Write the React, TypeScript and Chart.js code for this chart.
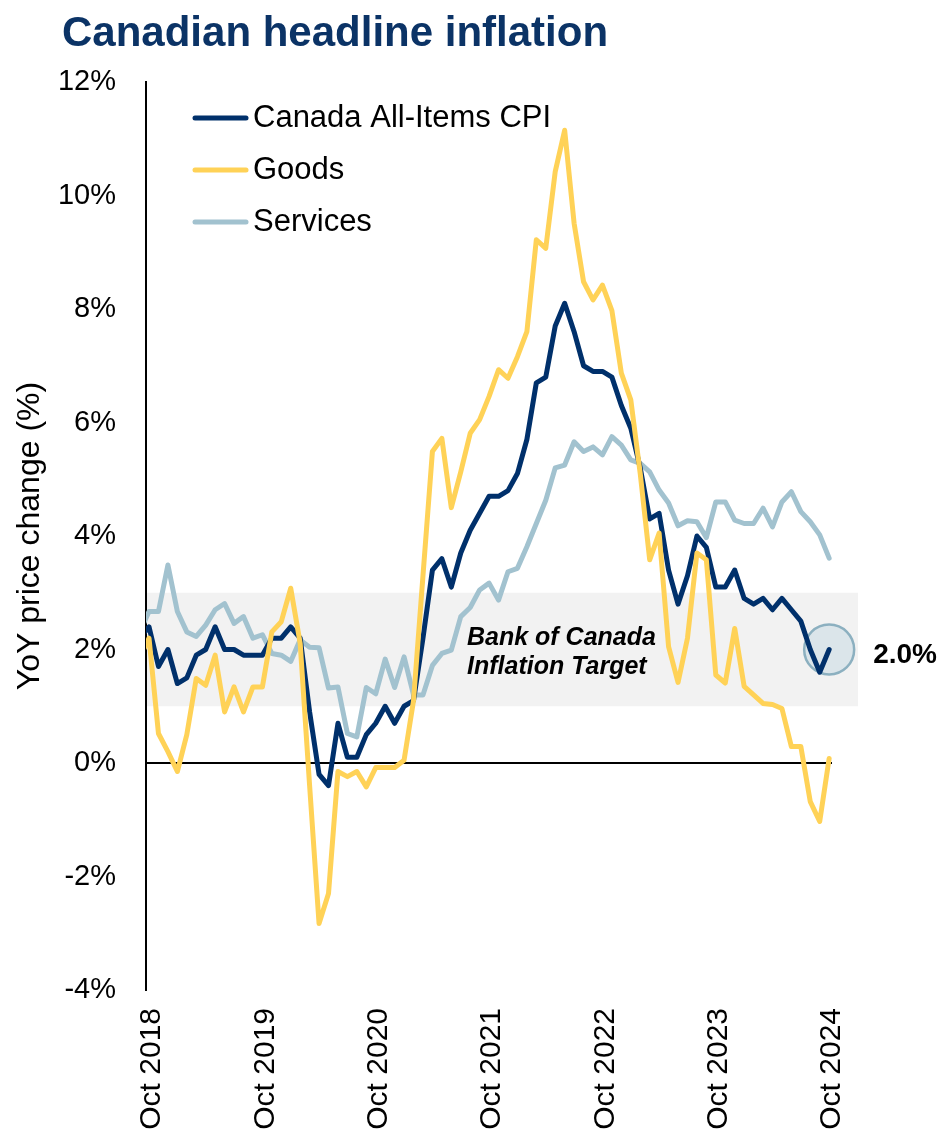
import React, { useEffect, useRef } from 'react';
import { Chart, registerables } from 'chart.js';

Chart.register(...registerables);

const FONT = '"Liberation Sans", Arial, Helvetica, sans-serif';

const chartTitle = 'Canadian headline inflation';
const yAxisTitle = 'YoY price change (%)';
const seriesNames = ['Canada All-Items CPI', 'Goods', 'Services'];
const seriesColors = ['#00306b', '#ffd257', '#a2c2cf'];

// Monthly observations: index 0 = Sep 2018 ... index 73 = Oct 2024
const firstMonth = 'Sep 2018';
const xTickLabels = ['Oct 2018', 'Oct 2019', 'Oct 2020', 'Oct 2021', 'Oct 2022', 'Oct 2023', 'Oct 2024'];
const xTickIndex = [1, 13, 25, 37, 49, 61, 73];
const yTickValues = [-4, -2, 0, 2, 4, 6, 8, 10, 12];

const allItems = [
  2.2, 2.4, 1.7, 2.0,
  1.4, 1.5, 1.9, 2.0, 2.4, 2.0, 2.0, 1.9, 1.9, 1.9, 2.2, 2.2,
  2.4, 2.2, 0.9, -0.2, -0.4, 0.7, 0.1, 0.1, 0.5, 0.7, 1.0, 0.7,
  1.0, 1.1, 2.2, 3.4, 3.6, 3.1, 3.7, 4.1, 4.4, 4.7, 4.7, 4.8,
  5.1, 5.7, 6.7, 6.8, 7.7, 8.1, 7.6, 7.0, 6.9, 6.9, 6.8, 6.3,
  5.9, 5.2, 4.3, 4.4, 3.4, 2.8, 3.3, 4.0, 3.8, 3.1, 3.1, 3.4,
  2.9, 2.8, 2.9, 2.7, 2.9, 2.7, 2.5, 2.0, 1.6, 2.0,
];

const goods = [
  1.85, 2.2, 0.52, 0.2,
  -0.15, 0.5, 1.49, 1.37, 1.9, 0.9, 1.34, 0.9, 1.34, 1.34, 2.31, 2.49,
  3.08, 2.11, -0.4, -2.83, -2.3, -0.15, -0.24, -0.15, -0.42, -0.08, -0.08, -0.08,
  0.05, 1.1, 3.3, 5.49, 5.72, 4.5, 5.13, 5.81, 6.05, 6.46, 6.93, 6.78,
  7.16, 7.6, 9.22, 9.07, 10.42, 11.15, 9.51, 8.48, 8.16, 8.42, 7.97, 6.87,
  6.4, 5.1, 3.58, 4.05, 2.05, 1.42, 2.2, 3.7, 3.58, 1.55, 1.41, 2.37,
  1.35, 1.2, 1.05, 1.03, 0.96, 0.29, 0.29, -0.68, -1.03, 0.08,
];

const services = [
  2.3, 2.67, 2.67, 3.49,
  2.67, 2.31, 2.23, 2.43, 2.7, 2.81, 2.46, 2.58, 2.2, 2.26, 1.93, 1.9,
  1.79, 2.17, 2.04, 2.03, 1.32, 1.34, 0.52, 0.46, 1.33, 1.22, 1.83, 1.33,
  1.87, 1.2, 1.2, 1.72, 1.93, 1.99, 2.58, 2.74, 3.05, 3.17, 2.87, 3.37,
  3.43, 3.81, 4.22, 4.63, 5.2, 5.25, 5.66, 5.49, 5.57, 5.43, 5.75, 5.6,
  5.34, 5.28, 5.13, 4.81, 4.58, 4.18, 4.27, 4.25, 3.97, 4.6, 4.6, 4.28,
  4.22, 4.22, 4.49, 4.16, 4.6, 4.78, 4.43, 4.25, 4.02, 3.61,
];

const targetBand = [1, 3];
const targetLabel = ['Bank of Canada', 'Inflation Target'];
const latestLabel = '2.0%';

const seriesValues = [allItems, goods, services];
const drawOrder = [1, 0, 2];

const overlayPlugin = {
  id: 'overlay',
  beforeDraw(chart: any) {
    const { ctx, chartArea, scales } = chart;
    const ys = scales.y;
    const top = ys.getPixelForValue(targetBand[1]);
    const bottom = ys.getPixelForValue(targetBand[0]);
    ctx.save();
    ctx.fillStyle = '#f2f2f2';
    ctx.fillRect(chartArea.left + 1, top, chartArea.right - chartArea.left + 25, bottom - top);
    ctx.restore();
  },
  beforeDatasetsDraw(chart: any) {
    const { ctx, chartArea, scales } = chart;
    const xs = scales.x;
    const ys = scales.y;
    ctx.save();
    const y0 = ys.getPixelForValue(0);
    ctx.strokeStyle = '#000';
    ctx.lineWidth = 2;
    ctx.beginPath();
    ctx.moveTo(chartArea.left, y0);
    ctx.lineTo(chartArea.right, y0);
    ctx.stroke();

    const last = allItems.length - 1;
    const cx = xs.getPixelForValue(last);
    const cy = ys.getPixelForValue(allItems[last]);
    ctx.beginPath();
    ctx.arc(cx, cy, 25, 0, Math.PI * 2);
    ctx.fillStyle = '#dbe5ea';
    ctx.fill();
    ctx.lineWidth = 2.5;
    ctx.strokeStyle = '#8cb0c0';
    ctx.stroke();
    ctx.restore();
  },
  afterDraw(chart: any) {
    const { ctx, chartArea, scales } = chart;
    const xs = scales.x;
    const ys = scales.y;
    ctx.save();
    // Title
    ctx.fillStyle = '#0b3366';
    ctx.font = `bold 42px ${FONT}`;
    ctx.textAlign = 'left';
    ctx.textBaseline = 'alphabetic';
    ctx.fillText(chartTitle, 62, 46);

    // Legend
    ctx.font = `31px ${FONT}`;
    ctx.textBaseline = 'middle';
    chart.data.datasets.forEach((ds: any, i: number) => {
      const y = 118 + 52 * i;
      ctx.strokeStyle = ds.borderColor;
      ctx.lineWidth = 5;
      ctx.lineCap = 'round';
      ctx.beginPath();
      ctx.moveTo(195, y);
      ctx.lineTo(246, y);
      ctx.stroke();
      ctx.fillStyle = '#000';
      ctx.fillText(ds.label, 253, y);
    });

    // Target annotation
    ctx.font = `italic bold 25px ${FONT}`;
    ctx.fillStyle = '#000';
    ctx.textBaseline = 'alphabetic';
    ctx.fillText(targetLabel[0], chartArea.left + 321, 645);
    ctx.fillText(targetLabel[1], chartArea.left + 321, 674);

    // Latest value label
    const last = allItems.length - 1;
    const cx = xs.getPixelForValue(last);
    const cy = ys.getPixelForValue(allItems[last]);
    ctx.font = `bold 28px ${FONT}`;
    ctx.textBaseline = 'middle';
    ctx.fillText(latestLabel, cx + 44, cy + 6);
    ctx.restore();
  },
};

export default function App() {
  const ref = useRef<HTMLCanvasElement | null>(null);

  useEffect(() => {
    if (!ref.current) return;
    const chart = new Chart(ref.current, {
      type: 'line',
      data: {
        datasets: seriesNames.map((name, i) => ({
          label: name,
          data: seriesValues[i].map((v, k) => ({ x: k, y: v })),
          borderColor: seriesColors[i],
          backgroundColor: seriesColors[i],
          borderWidth: 5,
          pointRadius: 0,
          tension: 0,
          borderJoinStyle: 'round' as const,
          borderCapStyle: 'round' as const,
          order: drawOrder[i],
          clip: { left: 0, top: false, right: false, bottom: false } as any,
        })),
      },
      options: {
        responsive: false,
        animation: false,
        devicePixelRatio: 1,
        layout: { padding: { top: 82, right: 110, bottom: 0, left: 0 } },
        plugins: {
          legend: { display: false },
          title: { display: false },
          tooltip: { enabled: false },
        },
        scales: {
          x: {
            type: 'linear',
            min: 0.68,
            max: 73.3,
            grid: { display: false, drawTicks: false },
            border: { display: false },
            afterBuildTicks: (s: any) => {
              s.ticks = xTickIndex.map((v) => ({ value: v }));
            },
            afterFit: (s: any) => {
              s.height = 153;
            },
            ticks: {
              autoSkip: false,
              minRotation: 90,
              maxRotation: 90,
              padding: 18,
              labelOffset: 3,
              color: '#000',
              font: { family: FONT, size: 30 },
              callback: (v: any) => {
                const i = xTickIndex.indexOf(Number(v));
                return i >= 0 ? xTickLabels[i] : '';
              },
            },
          },
          y: {
            type: 'linear',
            min: -4,
            max: 12,
            afterBuildTicks: (s: any) => {
              s.ticks = yTickValues.map((v) => ({ value: v }));
            },
            afterFit: (s: any) => {
              s.width = 146;
            },
            grid: { display: false, drawTicks: false },
            border: { display: true, color: '#000', width: 2 },
            ticks: {
              padding: 30,
              color: '#000',
              font: { family: FONT, size: 29 },
              callback: (v: any) => `${v}%`,
            },
            title: {
              display: true,
              text: yAxisTitle,
              color: '#000',
              font: { family: FONT, size: 32 },
              padding: { top: 11, bottom: 0 },
            },
          },
        },
      },
      plugins: [overlayPlugin],
    } as any);
    return () => chart.destroy();
  }, []);

  return (
    <div style={{ position: 'absolute', left: 0, top: 0, width: 942, height: 1143, background: '#fff' }}>
      <canvas ref={ref} width={942} height={1143} data-first-month={firstMonth} />
    </div>
  );
}
